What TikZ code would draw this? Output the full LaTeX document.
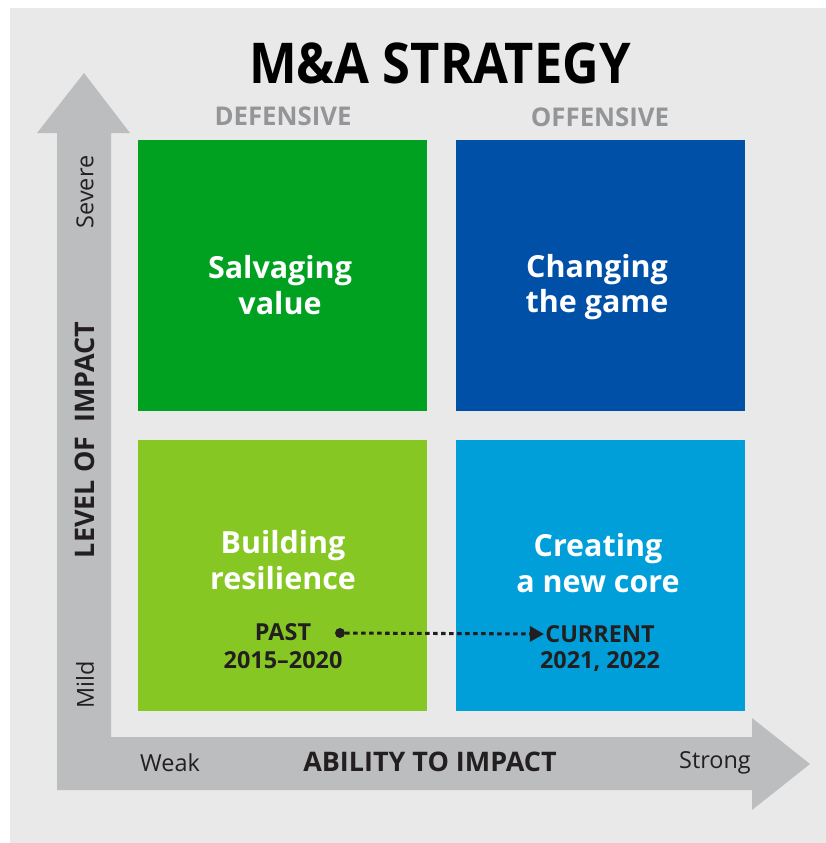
\documentclass[tikz,border=0pt]{standalone}
\usepackage{fontspec}
\setmainfont{Open Sans}
\usetikzlibrary{arrows.meta}
\definecolor{bggray}{HTML}{E9E9E9}
\definecolor{axisgray}{HTML}{BCBDBF}
\definecolor{headgray}{HTML}{939598}
\definecolor{inkdark}{HTML}{231F20}
\definecolor{salvgreen}{HTML}{00A021}
\definecolor{gameblue}{HTML}{0050A8}
\definecolor{resilime}{HTML}{86C724}
\definecolor{coreblue}{HTML}{009FD9}
\begin{document}
\begin{tikzpicture}[x=0.3mm, y=-0.3mm,
  quad/.style={minimum width=86.7mm, minimum height=81.3mm, inner sep=0pt, outer sep=0pt},
  qlabel/.style={text=white, align=center, font=\fontsize{26}{30}\selectfont\bfseries},
  side/.style={text=headgray, font=\fontsize{22}{24}\selectfont\bfseries},
  axisword/.style={text=inkdark, font=\fontsize{20}{22}\selectfont},
  axistitle/.style={text=inkdark, font=\fontsize{23}{25}\selectfont\bfseries},
  era/.style={text=inkdark, font=\fontsize{20}{22}\selectfont\bfseries, inner sep=1pt}]
\useasboundingbox (0,0) rectangle (826,843);
\fill[bggray] (10,8) rectangle (826,843);
% axes as one L-shaped arrow
\fill[axisgray] (57,790) -- (57,133) -- (37,133) -- (84,73) -- (130,133) -- (111,133)
  -- (111,737) -- (752,737) -- (752,718) -- (810,764) -- (752,810) -- (752,790) -- cycle;
% title and column heads
\node[text=black, font=\fontsize{48}{50}\selectfont\bfseries] (title) at (440,63) {\scalebox{0.9}[1]{M\&A STRATEGY}};
\node[side] (def) at (283,116) {DEFENSIVE};
\node[side] (off) at (600,117) {OFFENSIVE};
% quadrants
\node[quad, fill=salvgreen] (salvage) at (282.5,275.5) {};
\node[quad, fill=gameblue] (change) at (600.5,275.5) {};
\node[quad, fill=resilime] (build) at (282.5,575) {};
\node[quad, fill=coreblue] (create) at (600.5,575) {};
\node[qlabel] (salvagetxt) at (280,285) {Salvaging\\value};
\node[qlabel] (changetxt) at (597,287) {Changing\\the game};
\node[qlabel] (buildtxt) at (283,560) {Building\\resilience};
\node[qlabel] (createtxt) at (598,563) {Creating\\a new core};
% axis labels
\node[axisword, rotate=90] (severe) at (85,192) {Severe};
\node[axistitle, rotate=90] (level) at (85,440) {LEVEL OF\ \ IMPACT};
\node[axisword, rotate=90] (mild) at (85,685) {Mild};
\node[axisword] (weak) at (170,763) {Weak};
\node[axistitle] (ability) at (430,762) {ABILITY TO IMPACT};
\node[axisword] (strong) at (715,763) {Strong};
% past -> current
\node[era] (past) at (283,632) {PAST};
\node[era] (pastyears) at (283,660) {2015--2020};
\node[era] (current) at (600,634) {CURRENT};
\node[era] (curyears) at (600,662) {2021, 2022};
\node[circle, fill=inkdark, inner sep=0pt, minimum size=3mm] (pastdot) at (340,633) {};
\draw[inkdark, line width=2.6pt, dash pattern=on 1.3mm off 1.1mm, -{Triangle[length=4.2mm, width=4.5mm]}]
  (pastdot) -- (current.west);
\end{tikzpicture}
\end{document}
